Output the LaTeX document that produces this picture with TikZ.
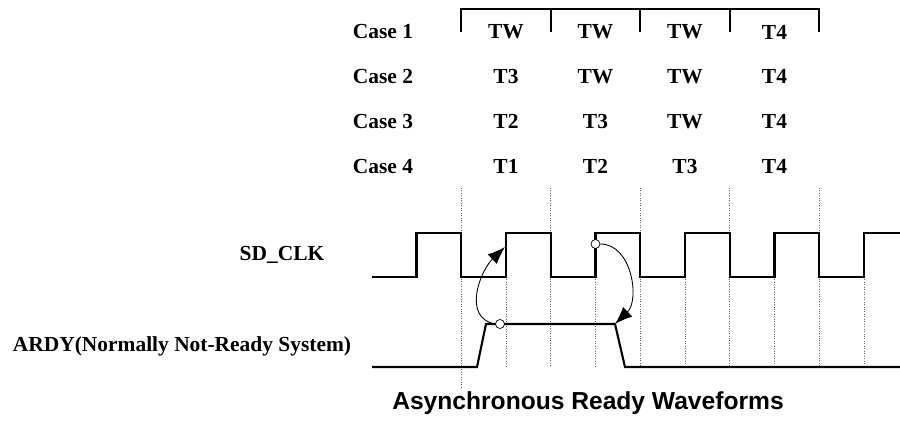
\documentclass[tikz,border=0pt]{standalone}
\usepackage{fontspec}
\setmainfont{Liberation Serif}
\setsansfont{Liberation Sans}
\usetikzlibrary{arrows.meta}

\begin{document}
\begin{tikzpicture}[x=0.02cm, y=-0.02cm,
    sig/.style={black, line width=1.2pt},
    vline/.style={gray!80!black, densely dotted, line width=0.4pt},
    lab/.style={font=\bfseries\fontsize{12.2}{14}\selectfont, inner sep=0pt},
    pin/.style={circle, draw, fill=white, inner sep=0pt, minimum size=0.18cm, line width=0.4pt},
    cause/.style={line width=0.5pt, -{Latex[length=10pt,width=7.5pt]}}]
  \useasboundingbox (0,0) rectangle (900,428);
  \def\hp{44.75}
  \def\clkhi{233}
  \def\clklo{277}
  \def\rdyhi{324}
  \def\rdylo{367}
  % dotted guides
  \foreach \i in {0,...,4} {
      \draw[vline] ({461.25+2*\hp*\i},188) -- ({461.25+2*\hp*\i},\rdylo);
      \draw[vline] ({506+2*\hp*\i},\clklo) -- ({506+2*\hp*\i},\rdylo);
  }
  \draw[vline] (461.25,\rdylo) -- (461.25,387);
  % cycle table
  \draw[sig] (461.25,32) -- (461.25,9) -- (819.25,9) -- (819.25,32);
  \foreach \x in {550.75,640.25,729.75} {
      \draw[sig] (\x,9) -- (\x,32);
  }
  \foreach \a/\b/\c/\d [count=\k] in {TW/TW/TW/T4, T3/TW/TW/T4, T2/T3/TW/T4, T1/T2/T3/T4} {
      \node[lab] (case\k) at (383,{32+44.7*(\k-1)}) {Case \k};
      \node[lab] (c\k-1) at (506,{32+44.7*(\k-1)}) {\a};
      \node[lab] (c\k-2) at (595.5,{32+44.7*(\k-1)}) {\b};
      \node[lab] (c\k-3) at (685,{32+44.7*(\k-1)}) {\c};
      \node[lab] (c\k-4) at (774.5,{32+44.7*(\k-1)}) {\d};
  }
  % waveforms
  \draw[sig] (372,\clklo) foreach \i in {0,...,4} {
      -- ({416.5+2*\hp*\i},\clklo) -- ({416.5+2*\hp*\i},\clkhi)
      -- ({416.5+2*\hp*\i+\hp},\clkhi) -- ({416.5+2*\hp*\i+\hp},\clklo)
  } -- (864,\clklo) -- (864,\clkhi) -- (900,\clkhi);
  \draw[sig] (372,\rdylo) -- (477,\rdylo) -- (486,\rdyhi) -- (615,\rdyhi) -- (625,\rdylo) -- (900,\rdylo);
  \node[lab] (sdclk) at (282,255) {SD\_CLK};
  \node[lab] (ardy) at (182,346) {ARDY(Normally Not-Ready System)};
  % sampling arrows
  \node[pin] (rdyup) at (500,\rdyhi) {};
  \node[pin] (clkup) at (595.5,244) {};
  \coordinate (edge1) at (505,247);
  \coordinate (rdydn) at (615,\rdyhi);
  \draw[cause] (rdyup.west) .. controls (462,318) and (480,271) .. (edge1);
  \draw[cause] (clkup.east) .. controls (632,244) and (640,300) .. (rdydn);
  \node[font=\sffamily\bfseries\fontsize{14}{16}\selectfont] (title) at (588,403) {Asynchronous Ready Waveforms};
\end{tikzpicture}
\end{document}
